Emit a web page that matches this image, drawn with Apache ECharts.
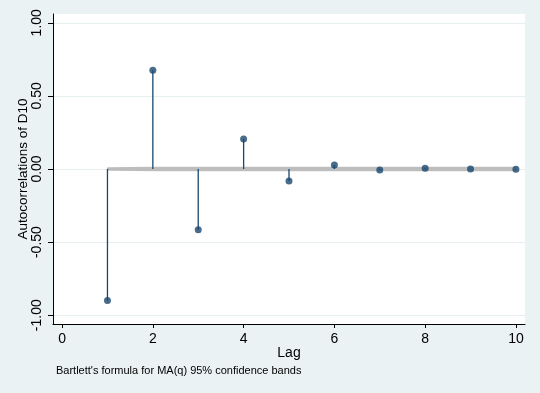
<!DOCTYPE html>
<html><head><meta charset="utf-8">
<script src="https://cdn.jsdelivr.net/npm/echarts@6/dist/echarts.min.js"></script>
<style>html,body{margin:0;padding:0;background:#eaf2f3;}#c{width:540px;height:393px;}</style>
</head><body><div id="c"></div>
<script>
var lags = [1,2,3,4,5,6,7,8,9,10];
var acf = [-0.90,0.676,-0.416,0.205,-0.082,0.027,-0.007,0.005,0.000,-0.002];
var bandHalf = [0.008,0.012,0.012,0.012,0.012,0.012,0.012,0.012,0.012,0.012];
var xTicks = [0,2,4,6,8,10];
var yTicks = [-1,-0.5,0,0.5,1];
var yTickLabels = ['-1.00','-0.50','0.00','0.50','1.00'];

var navy = '#1a476f';
var chart = echarts.init(document.getElementById('c'));
var font = 'Liberation Sans, Arial, sans-serif';
chart.setOption({
  backgroundColor: '#eaf2f3',
  animation: false,
  title: {
    text: "Bartlett's formula for MA(q) 95% confidence bands",
    left: 56, top: 365, padding: 0,
    textStyle: {fontSize: 11, fontWeight: 'normal', color: '#000', fontFamily: font}
  },
  grid: {left: 53, right: 15, top: 14, bottom: 69, show: true, backgroundColor: '#fff', borderWidth: 0},
  xAxis: {
    type: 'value', min: -0.2, max: 10.2,
    name: 'Lag', nameLocation: 'middle', nameGap: 22, nameMoveOverlap: false,
    nameTextStyle: {fontSize: 14, color: '#000', fontFamily: font},
    axisLine: {show: true, onZero: false, lineStyle: {color: '#000', width: 1}},
    axisTick: {show: true, length: 4, customValues: xTicks, lineStyle: {color: '#000'}},
    axisLabel: {customValues: xTicks, fontSize: 14, color: '#000', fontFamily: font, margin: 8},
    splitLine: {show: false}
  },
  yAxis: {
    type: 'value', min: -1.06, max: 1.06,
    name: 'Autocorrelations of D10', nameLocation: 'middle', nameGap: 23, nameRotate: 90, nameMoveOverlap: false,
    nameTextStyle: {fontSize: 13.5, color: '#000', fontFamily: font},
    axisLine: {show: true, onZero: false, lineStyle: {color: '#000', width: 1}},
    axisTick: {show: true, length: 5, customValues: yTicks, lineStyle: {color: '#000'}},
    axisLabel: {customValues: yTicks, rotate: 90, fontSize: 14, color: '#000', fontFamily: font, margin: 9,
      formatter: function(v){ var i = yTicks.indexOf(v); return i >= 0 ? yTickLabels[i] : ''; }},
    splitLine: {show: false}
  },
  series: [
    {
      type: 'custom', silent: true, z: 1,
      data: lags.map(function(l,i){ return [l, bandHalf[i]]; }),
      renderItem: function(params, api){
        if (params.dataIndex !== 0) return null;
        var pts = [];
        for (var i = 0; i < lags.length; i++) pts.push(api.coord([lags[i], bandHalf[i]]));
        for (var j = lags.length - 1; j >= 0; j--) pts.push(api.coord([lags[j], -bandHalf[j]]));
        return {type: 'polygon', shape: {points: pts}, style: {fill: '#bdbdbd', stroke: '#b4b4b4', lineWidth: 0.8}};
      },
      markLine: {
        silent: true, symbol: 'none', label: {show: false}, z: 0,
        lineStyle: {color: '#e6eef0', width: 1, type: 'solid'},
        data: yTicks.map(function(v){ return {yAxis: v}; })
      }
    },
    {
      type: 'custom', silent: true, z: 3,
      data: lags.map(function(l,i){ return [l, acf[i]]; }),
      renderItem: function(params, api){
        var p0 = api.coord([api.value(0), 0]);
        var p1 = api.coord([api.value(0), api.value(1)]);
        return {type: 'line', shape: {x1: p0[0], y1: p0[1], x2: p1[0], y2: p1[1]},
          style: {stroke: navy, lineWidth: 1.3}};
      }
    },
    {
      type: 'scatter', symbol: 'circle', symbolSize: 7, z: 4,
      data: lags.map(function(l,i){ return [l, acf[i]]; }),
      itemStyle: {color: navy}
    }
  ]
});
</script></body></html>
